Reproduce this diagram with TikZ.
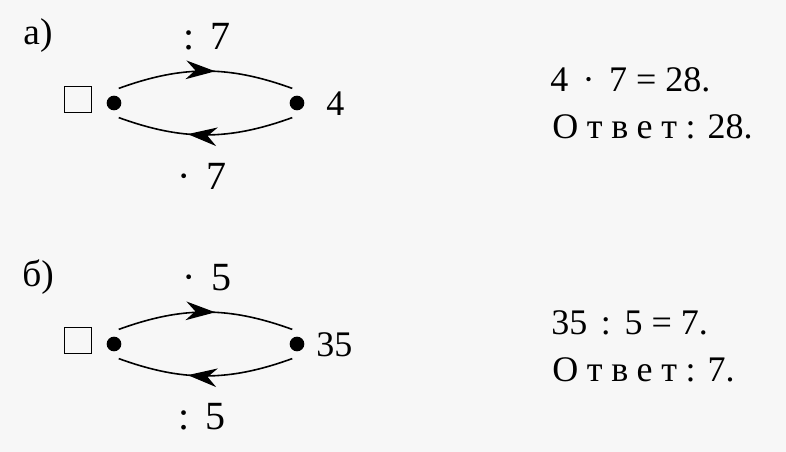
\documentclass[tikz,border=0pt]{standalone}
\usepackage{fontspec}
\setmainfont{Liberation Serif}
\usetikzlibrary{arrows.meta,decorations.markings}

\definecolor{paper}{HTML}{F7F7F7}

\tikzset{
  dot/.style={circle, fill, inner sep=0pt, minimum size=11pt, outer sep=6pt},
  box/.style={draw, line width=0.9pt, inner sep=0pt, minimum size=20pt},
  letter/.style={inner sep=0pt, font=\fontsize{28}{32}\selectfont},
  oplabel/.style={inner sep=0pt, font=\fontsize{30}{34}\selectfont},
  number/.style={inner sep=0pt, anchor=west, font=\fontsize{27}{31}\selectfont},
  answer/.style={inner sep=0pt, anchor=base west, font=\fontsize{27}{31}\selectfont},
  flow/.style={line width=1.2pt,
    decoration={markings, mark=at position #1 with
      {\arrow{Stealth[length=22pt, width=14pt, inset=7pt]}}},
    postaction={decorate}},
  flow/.default=0.55
}

\begin{document}
\begin{tikzpicture}[x=0.75pt, y=-0.75pt]
  \fill[paper] (0,0) rectangle (786,452);
  \useasboundingbox (0,0) rectangle (786,452);
  % --- Helper: \scheme{row}{letter}{top op}{bottom op}{number}{x of number} ---
  % Square, two dots joined by a pair of arcs, the unknown on the left.
  \newcommand{\scheme}[6]{%
    \begin{scope}[shift={(0,#1)}]
      \node[letter] (lbl) at (38,-67) {#2};
      \node[box] (sq) at (78,-3.5) {};
      \node[dot] (lft) at (114,0) {};
      \node[dot] (rgt) at (297,0) {};
      \node[number] (num) at (#6,1) {#5};
      \node[oplabel] (top) at (207,-66) {#3};
      \node[oplabel] (bot) at (202,73) {#4};
      \draw[flow=0.555] (lft.72) to[bend left=20] (rgt.108);
      \draw[flow=0.60] (rgt.-108) to[bend left=20] (lft.-72);
    \end{scope}}
  % Case a: multiply back; case b: divide back.
  \scheme{103}{а)}{:\hspace{.4em}7}{·\hspace{.4em}7}{4}{326}
  \scheme{344}{б)}{·\hspace{.4em}5}{:\hspace{.4em}5}{35}{316}
  % Answers on the right.
  \node[answer] (eqa) at (550,92) {4\hspace{.4em}·\hspace{.4em}7 = 28.};
  \node[answer] (ansa) at (552,139) {{\addfontfeature{LetterSpace=24}Ответ:} 28.};
  \node[answer] (eqb) at (551,335) {35\hspace{.38em}:\hspace{.38em}5 = 7.};
  \node[answer] (ansb) at (552,382) {{\addfontfeature{LetterSpace=24}Ответ:} 7.};
\end{tikzpicture}
\end{document}
